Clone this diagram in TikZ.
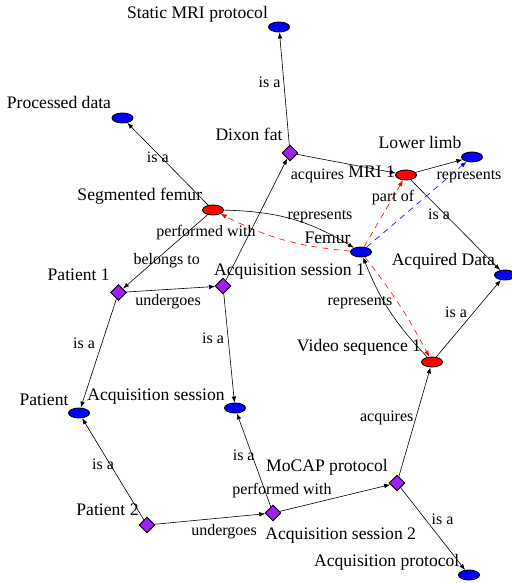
\documentclass[tikz,border=0pt]{standalone}
\usepackage{fontspec}
\setmainfont{Liberation Serif}
\usetikzlibrary{shapes.geometric,arrows.meta}

\definecolor{actpurple}{RGB}{160,32,240}

\tikzset{
  cls/.style={ellipse, draw=black, line width=0.9pt, fill=blue,
    minimum width=21pt, minimum height=10pt, inner sep=0pt},
  inst/.style={cls, fill=red},
  act/.style={diamond, draw=black, line width=0.9pt, fill=actpurple,
    minimum width=16pt, minimum height=16pt, inner sep=0pt},
  rel/.style={-{Latex[length=6pt,width=4.5pt]}, line width=0.6pt},
  reddash/.style={rel, red, dash pattern=on 6pt off 5pt},
  bluedash/.style={rel, blue, dash pattern=on 6pt off 5pt},
  vname/.style={font=\fontsize{17.6}{20}\selectfont, inner sep=0pt, anchor=base},
  ename/.style={font=\fontsize{16}{18}\selectfont, inner sep=0pt},
}

\begin{document}
\begin{tikzpicture}[x=1pt,y=-1pt]  % picture in pixel units, y downwards

\useasboundingbox (0,0) rectangle (511,583);

% Classes (blue)
\node[cls] (static)  at (279,27)    {};
\node[cls] (proc)    at (122.5,118) {};
\node[cls] (lower)   at (472,157)   {};
\node[cls] (femur)   at (361,252)   {};
\node[cls] (acqdata) at (505,275)   {};
\node[cls] (patient) at (79,413)    {};
\node[cls] (acqsess) at (235,408)   {};
\node[cls] (acqprot) at (469,575)   {};

% Instances (red)
\node[inst] (mri)   at (406,175)   {};
\node[inst] (seg)   at (213,210)   {};
\node[inst] (video) at (432,362)   {};

% Individuals (diamonds)
\node[act] (dixon) at (290,153)   {};
\node[act] (p1)    at (118.5,292.5) {};
\node[act] (as1)   at (223,286)   {};
\node[act] (mocap) at (397,483)   {};
\node[act] (p2)    at (147,525)   {};
\node[act] (as2)   at (273,513)   {};

% Vertex names
\foreach \x/\y/\txt [count=\i] in {
    197.5/18.3/Static MRI protocol, 59/108.3/Processed data,
    249/140/Dixon fat, 420/148.3/Lower limb, 371.7/177/MRI 1,
    139.8/200.6/Segmented femur, 327.5/243.3/Femur,
    443.3/265/Acquired Data, 78.7/280/Patient 1,
    289.5/275/Acquisition session 1, 44/405/Patient,
    156/400/Acquisition session, 359/351.6/Video sequence 1,
    327/471.6/MoCAP protocol, 107.5/515/Patient 2,
    340.7/539/Acquisition session 2, 386.7/566.6/Acquisition protocol} {
  \node[vname] (name\i) at (\x,\y) {\txt};
}

% Edges
\draw[rel] (dixon) -- (static);
\draw[rel] (dixon) -- (mri);
\draw[rel] (seg) -- (proc);
\draw[rel] (seg) -- (p1);
\draw[rel] (as1) -- (dixon);
\draw[rel] (as2) -- (mocap);
\draw[rel] (mocap) -- (video);
\draw[rel] (mocap) -- (acqprot);
\draw[rel] (as2) -- (acqsess);
\draw[rel] (p2) -- (as2);
\draw[rel] (p2) -- (patient);
\draw[rel] (p1) -- (patient);
\draw[rel] (p1) -- (as1);
\draw[rel] (as1) -- (acqsess);
\draw[rel] (mri) -- (acqdata);
\draw[rel] (video) -- (acqdata);
\draw[rel] (mri) -- (lower);
\draw[rel] (seg) to[bend left=15] (femur);
\draw[rel] (video) to[bend left=11] (femur);

% Dashed links from the femur
\draw[reddash] (femur) to[bend left=11] (seg);
\draw[reddash] (femur) -- (mri);
\draw[reddash] (femur) to[bend left=5] (video);
\draw[bluedash] (femur) -- (lower);

% Edge labels
\foreach \x/\y/\txt [count=\i] in {
    269.5/82.5/is a, 317.5/175.8/acquires, 157.8/157.5/is a,
    166.7/261/belongs to, 206/233/performed with,
    282/491/performed with, 386.7/417.5/acquires,
    442.5/519.5/is a, 243.7/455/is a, 224/531.7/undergoes,
    103/464/is a, 84/343/is a, 168/301.7/undergoes,
    213/338/is a, 439/214/is a, 456/312.5/is a,
    360/302.5/represents, 320/217/represents,
    469/177/represents, 393/198/part of} {
  \node[ename] (rel\i) at (\x,\y) {\txt};
}

\end{tikzpicture}
\end{document}
